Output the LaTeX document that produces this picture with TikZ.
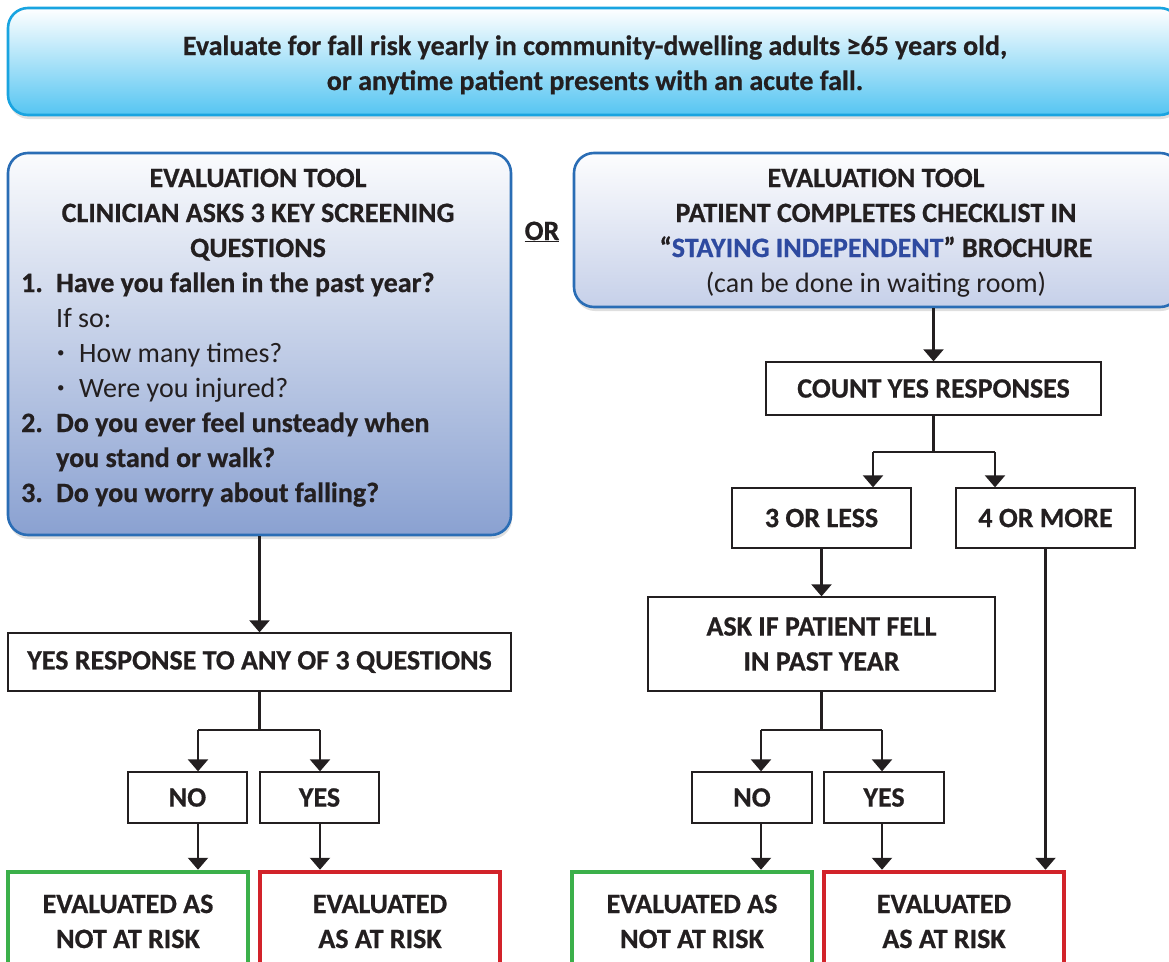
\documentclass[tikz,border=0pt]{standalone}
\usepackage{fontspec}
\setmainfont{Carlito}[BoldFeatures={FakeBold=0.6}]
\usetikzlibrary{arrows.meta,shadows}
\definecolor{topfill}{HTML}{55C5F2}
\definecolor{topline}{HTML}{19A4E0}
\definecolor{toolline}{HTML}{2A6DB5}
\definecolor{toolfillL}{HTML}{8AA1D1}
\definecolor{toolfillR}{HTML}{C6D0E9}
\definecolor{okgreen}{HTML}{3BB04A}
\definecolor{riskred}{HTML}{D2232A}
\definecolor{brochure}{HTML}{2E4AA0}
\definecolor{ink}{HTML}{231F20}
\newcommand{\smallbul}{\raisebox{5pt}{\fontsize{15}{15}\selectfont •}}
\begin{document}
\begin{tikzpicture}[x=1pt,y=-1pt,
  bt/.style={font=\fontsize{28}{35}\selectfont\bfseries, text=ink, inner sep=0pt},
  rt/.style={font=\fontsize{28}{35}\selectfont, text=ink, inner sep=0pt},
  plainbox/.style={draw=ink, line width=1.3pt, fill=white, rectangle, inner sep=0pt,
     font=\fontsize{28}{35}\selectfont\bfseries, text=ink, align=center},
  greenbox/.style={draw=okgreen, line width=4.5pt, fill=white, rectangle, inner sep=0pt},
  redbox/.style={draw=riskred, line width=4.5pt, fill=white, rectangle, inner sep=0pt},
  toolbox/.style={draw=toolline, line width=2.6pt, rounded corners=20pt, rectangle, inner sep=0pt,
     drop shadow={shadow xshift=1pt, shadow yshift=-4pt, opacity=0.25}},
  line/.style={draw=ink, line width=2.2pt},
  arr/.style={line, -{Triangle[width=20pt,length=12pt]}}
]
\useasboundingbox (0,0) rectangle (1169,961);
\clip (0,0) rectangle (1169,961);

% top banner
\node[draw=topline, line width=2.6pt, rounded corners=20pt, rectangle, inner sep=0pt,
  top color=white, bottom color=topfill,
  drop shadow={shadow xshift=1pt, shadow yshift=-4pt, opacity=0.25},
  minimum width=1172, minimum height=107] (top) at (594,61.5) {};
\node[bt, anchor=base] (top1) at (595,55) {Evaluate for fall risk yearly in community-dwelling adults ≥65 years old,};
\node[bt, anchor=base] (top2) at (595,90) {or anytime patient presents with an acute fall.};

% left evaluation tool
\node[toolbox, top color=white!96!toolfillL, bottom color=toolfillL,
  minimum width=503, minimum height=382] (lbox) at (259.5,344) {};
\node[bt, anchor=base] (l1) at (258,187) {EVALUATION TOOL};
\node[bt, anchor=base] (l2) at (258,222) {CLINICIAN ASKS 3 KEY SCREENING};
\node[bt, anchor=base] (l3) at (258,257) {QUESTIONS};
\node[bt, anchor=base west] (q1n) at (21,292) {1.};
\node[bt, anchor=base west] (q1) at (56,292) {Have you fallen in the past year?};
\node[rt, anchor=base west] (q1s) at (56,327) {If so:};
\node[rt, anchor=base west] (b1d) at (57,362) {\smallbul};
\node[rt, anchor=base west] (b1) at (79,362) {How many times?};
\node[rt, anchor=base west] (b2d) at (57,397) {\smallbul};
\node[rt, anchor=base west] (b2) at (79,397) {Were you injured?};
\node[bt, anchor=base west] (q2n) at (21,432) {2.};
\node[bt, anchor=base west] (q2) at (56,432) {Do you ever feel unsteady when};
\node[bt, anchor=base west] (q2b) at (56,467) {you stand or walk?};
\node[bt, anchor=base west] (q3n) at (21,502) {3.};
\node[bt, anchor=base west] (q3) at (56,502) {Do you worry about falling?};

% OR
\node[bt, anchor=base] (or) at (542,240) {\underline{OR}};

% right evaluation tool
\node[toolbox, top color=white!96!toolfillR, bottom color=toolfillR,
  minimum width=606, minimum height=154] (rbox) at (877,230) {};
\node[bt, anchor=base] (r1) at (876,187) {EVALUATION TOOL};
\node[bt, anchor=base] (r2) at (876,222) {PATIENT COMPLETES CHECKLIST IN};
\node[bt, anchor=base] (r3) at (876,257) {“\textcolor{brochure}{STAYING INDEPENDENT}” BROCHURE};
\node[rt, anchor=base] (r4) at (876,292) {(can be done in waiting room)};

% right flow
\node[plainbox, minimum width=335, minimum height=53] (cnt) at (933.5,388.5) {COUNT YES RESPONSES};
\node[plainbox, minimum width=179, minimum height=60] (less) at (821.5,518) {3 OR LESS};
\node[plainbox, minimum width=179, minimum height=60] (more) at (1045.5,518) {4 OR MORE};
\node[plainbox, minimum width=347, minimum height=94] (ask) at (821.5,644) {ASK IF PATIENT FELL\\IN PAST YEAR};
\node[plainbox, minimum width=120, minimum height=51] (no2) at (752,797.5) {NO};
\node[plainbox, minimum width=120, minimum height=51] (yes2) at (884,797.5) {YES};
\node[greenbox, minimum width=240, minimum height=99] (ok2) at (692,921.5) {};
\node[redbox, minimum width=240, minimum height=99] (risk2) at (944,921.5) {};
\node[bt, anchor=base] (ok2a) at (692,913) {EVALUATED AS};
\node[bt, anchor=base] (ok2b) at (692,948) {NOT AT RISK};
\node[bt, anchor=base] (risk2a) at (944,913) {EVALUATED};
\node[bt, anchor=base] (risk2b) at (944,948) {AS AT RISK};

% left flow
\node[plainbox, minimum width=503, minimum height=58] (anyq) at (259.5,662) {YES RESPONSE TO ANY OF 3 QUESTIONS};
\node[plainbox, minimum width=119, minimum height=51] (no1) at (187.5,797.5) {NO};
\node[plainbox, minimum width=119, minimum height=51] (yes1) at (319.5,797.5) {YES};
\node[greenbox, minimum width=240, minimum height=99] (ok1) at (128,921.5) {};
\node[redbox, minimum width=240, minimum height=99] (risk1) at (380,921.5) {};
\node[bt, anchor=base] (ok1a) at (128,913) {EVALUATED AS};
\node[bt, anchor=base] (ok1b) at (128,948) {NOT AT RISK};
\node[bt, anchor=base] (risk1a) at (380,913) {EVALUATED};
\node[bt, anchor=base] (risk1b) at (380,948) {AS AT RISK};

% split coordinates
\coordinate (sA) at (873,452);
\coordinate (sB) at (995,452);
\coordinate (sC) at (761,730);
\coordinate (sD) at (882,730);
\coordinate (sE) at (198,730);
\coordinate (sF) at (320,730);

% connectors right
\draw[arr] (rbox.south -| cnt.north) -- (cnt.north);
\draw[line] (cnt.south) -- (cnt.south |- sA);
\draw[line] (sA) -- (sB);
\draw[arr] (sA) -- (sA |- less.north);
\draw[arr] (sB) -- (sB |- more.north);
\draw[arr] (less.south) -- (ask.north);
\draw[line] (ask.south) -- (ask.south |- sC);
\draw[line] (sC) -- (sD);
\draw[arr] (sC) -- (sC |- no2.north);
\draw[arr] (sD) -- (sD |- yes2.north);
\draw[arr] (no2.south -| sC) -- (sC |- ok2.north);
\draw[arr] (yes2.south -| sD) -- (sD |- risk2.north);
\draw[arr] (more.south) -- (more.south |- risk2.north);

% connectors left
\draw[arr] (lbox.south) -- (anyq.north);
\draw[line] (anyq.south) -- (anyq.south |- sE);
\draw[line] (sE) -- (sF);
\draw[arr] (sE) -- (sE |- no1.north);
\draw[arr] (sF) -- (sF |- yes1.north);
\draw[arr] (no1.south -| sE) -- (sE |- ok1.north);
\draw[arr] (yes1.south -| sF) -- (sF |- risk1.north);
\end{tikzpicture}
\end{document}
